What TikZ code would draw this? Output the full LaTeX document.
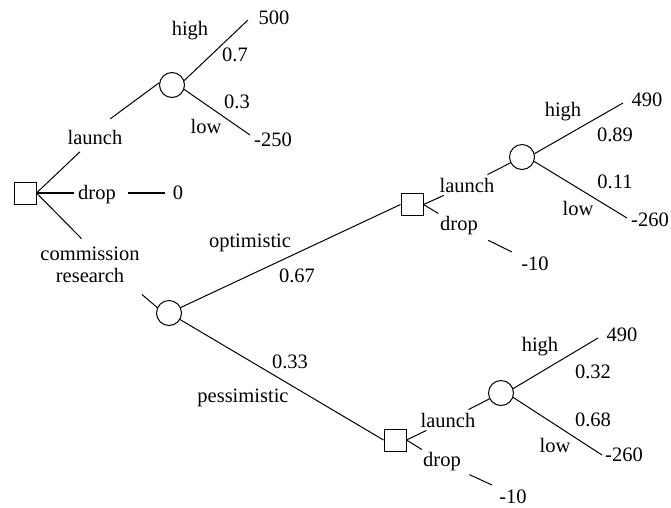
\documentclass[tikz,border=0pt]{standalone}
\usepackage{fontspec}
\setmainfont{Liberation Serif}
\begin{document}
\begin{tikzpicture}[x=1pt,y=-1pt,
  every node/.style={font=\fontsize{20.5}{21.5}\selectfont},
  edge/.style={line width=1pt},
  boldedge/.style={line width=2.4pt},
  decision/.style={draw,line width=1pt,rectangle,minimum size=22pt,inner sep=0pt},
  chance/.style={draw,line width=1pt,circle,minimum size=25pt,inner sep=0pt},
  lbl/.style={inner sep=0pt},
  inl/.style={inner sep=3pt}
]
\useasboundingbox (0,0) rectangle (671,507);

% decision and chance nodes
\node[decision] (d1) at (25,193) {};
\node[chance]   (c1) at (172,85) {};
\node[chance]   (c2) at (169,313) {};
\node[decision] (d2) at (412,204.5) {};
\node[decision] (d3) at (395,440) {};
\node[chance]   (c3) at (522,157) {};
\node[chance]   (c4) at (501,393) {};

% free ends of the outcome branches
\coordinate (h1e) at (248,20);
\coordinate (l1e) at (250,135);
\coordinate (h3e) at (623,103);
\coordinate (l3e) at (627,218);
\coordinate (h4e) at (598,338);
\coordinate (l4e) at (602,455);
\coordinate (e2)  at (512,252);
\coordinate (e3)  at (492,485);

% first decision
\node[lbl] (la1) at (95,137.5) {launch};
\node[lbl] (dr1) at (97,194.5) {drop};
\node[lbl] (zero) at (178,193) {0};
\node[lbl,align=center] (cr) at (90,265) {commission\\research};

\draw[edge,shorten >=10pt] (d1.east) -- (la1);
\draw[edge,shorten <=19pt] (la1.north) -- (c1.170);
\draw[boldedge,shorten >=4pt] (d1.east) -- (d1.east -| dr1.west);
\draw[boldedge,shorten <=12pt,shorten >=8pt] (dr1.east |- zero.west) -- (zero.west);
\draw[edge,shorten >=12pt] (d1.east) -- (cr.north);
\draw[edge,shorten <=18pt] (cr.-25) -- (c2.155);

% launching without research
\node[lbl] (hi1) at (190,31) {high};
\node[lbl] (p07) at (235,55) {0.7};
\node[lbl] (v500) at (274,18) {500};
\node[lbl] (p03) at (237,102) {0.3};
\node[lbl] (lo1) at (206,126) {low};
\node[lbl] (v250) at (273,140) {-250};
\draw[edge] (c1.20) -- (h1e);
\draw[edge] (c1.-20) -- (l1e);

% research outcome
\node[lbl] (opt) at (250,243) {optimistic};
\node[lbl] (p067) at (297,276) {0.67};
\node[lbl] (pes) at (243,398) {pessimistic};
\node[lbl] (p033) at (290,362) {0.33};
\draw[edge] (c2) -- (d2.west);
\draw[edge] (c2) -- (d3.west);

% after an optimistic report
\node[inl] (la2) at (467,185) {launch};
\node[inl] (dr2) at (459,226) {drop};
\node[lbl] (m10a) at (535,264) {-10};
\draw[edge] (d2.east) -- (la2);
\draw[edge] (la2) -- (c3);
\draw[edge] (d2.east) -- (dr2);
\draw[edge,shorten <=8pt] (dr2) -- (e2);

\node[lbl] (hi3) at (563,112) {high};
\node[lbl] (p089) at (615,135) {0.89};
\node[lbl] (v490a) at (647,100) {490};
\node[lbl] (p011) at (615,182) {0.11};
\node[lbl] (lo3) at (578,208) {low};
\node[lbl] (v260a) at (650,220) {-260};
\draw[edge] (c3.15) -- (h3e);
\draw[edge] (c3.-20) -- (l3e);

% after a pessimistic report
\node[inl] (la3) at (448,420) {launch};
\node[inl] (dr3) at (442,462) {drop};
\node[lbl] (m10b) at (513,497) {-10};
\draw[edge] (d3.east) -- (la3);
\draw[edge] (la3) -- (c4);
\draw[edge] (d3.east) -- (dr3);
\draw[edge,shorten <=6pt] (dr3) -- (e3);

\node[lbl] (hi4) at (540,347) {high};
\node[lbl] (p032) at (593,372) {0.32};
\node[lbl] (v490b) at (622,335) {490};
\node[lbl] (p068) at (593,420) {0.68};
\node[lbl] (lo4) at (555,445) {low};
\node[lbl] (v260b) at (624,455) {-260};
\draw[edge] (c4.20) -- (h4e);
\draw[edge] (c4.-20) -- (l4e);
\end{tikzpicture}
\end{document}
